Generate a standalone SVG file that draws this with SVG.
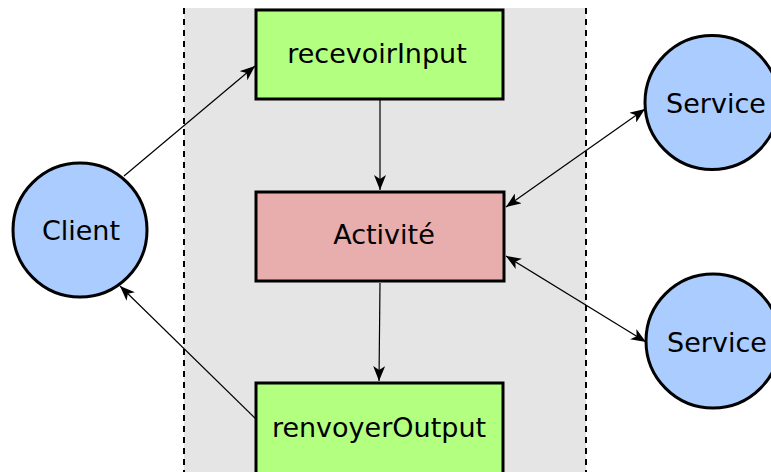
<svg xmlns="http://www.w3.org/2000/svg" width="771" height="472" viewBox="0 0 771 472">
<style>
.lbl{font-family:"DejaVu Sans",sans-serif;font-size:27px;fill:#000;text-anchor:middle}
.box{stroke:#000;stroke-width:3}
.green{fill:#b3ff80}
.red{fill:#e8adad}
.circ{fill:#aaccff;stroke:#000;stroke-width:3}
.edge{stroke:#000;stroke-width:1.2;fill:none}
.dash{stroke:#000;stroke-width:2;stroke-dasharray:6,5;fill:none}
</style>
<defs>
<marker id="ah" markerWidth="16" markerHeight="12" refX="15" refY="6" orient="auto-start-reverse" markerUnits="userSpaceOnUse">
<path d="M0,0 L15,6 L0,12 L4,6 Z" fill="#000"/>
</marker>
</defs>
<g id="process-area">
<rect x="184" y="8" width="402" height="464" fill="#e5e5e5"/>
<line class="dash" x1="184" y1="8" x2="184" y2="472"/>
<line class="dash" x1="586" y1="8" x2="586" y2="472"/>
</g>
<g id="connectors">
<line class="edge" x1="124" y1="176" x2="255" y2="66" marker-end="url(#ah)"/>
<line class="edge" x1="256" y1="419" x2="120" y2="286" marker-end="url(#ah)"/>
<line class="edge" x1="380" y1="100" x2="380" y2="190" marker-end="url(#ah)"/>
<line class="edge" x1="380" y1="283" x2="379" y2="381" marker-end="url(#ah)"/>
<line class="edge" x1="506" y1="207" x2="645" y2="109" marker-start="url(#ah)" marker-end="url(#ah)"/>
<line class="edge" x1="506" y1="256" x2="646" y2="342" marker-start="url(#ah)" marker-end="url(#ah)"/>
</g>
<g id="recevoirInput">
<rect class="box green" x="256" y="10" width="247" height="89"/>
<text class="lbl" x="377" y="63">recevoirInput</text>
</g>
<g id="activite">
<rect class="box red" x="256" y="192" width="248" height="89"/>
<text class="lbl" x="384" y="244">Activité</text>
</g>
<g id="renvoyerOutput">
<rect class="box green" x="256" y="383" width="247" height="92"/>
<text class="lbl" x="379" y="437">renvoyerOutput</text>
</g>
<g id="client">
<circle class="circ" cx="80" cy="230" r="67"/>
<text class="lbl" x="81" y="240">Client</text>
</g>
<g id="service1">
<circle class="circ" cx="712" cy="102.5" r="67"/>
<text class="lbl" x="716" y="113">Service</text>
</g>
<g id="service2">
<circle class="circ" cx="713" cy="341" r="67"/>
<text class="lbl" x="717" y="352">Service</text>
</g>
</svg>
